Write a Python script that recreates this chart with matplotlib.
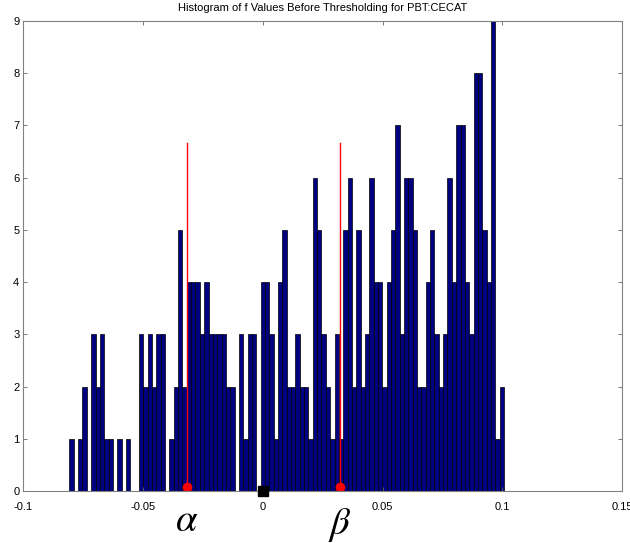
import numpy as np
import matplotlib
matplotlib.use("Agg")
import matplotlib.pyplot as plt
from matplotlib.transforms import blended_transform_factory

plt.rcParams["font.family"] = ["Liberation Sans", "DejaVu Sans"]
plt.rcParams["mathtext.fontset"] = "stix"

# histogram of f values (100 bins)
f_min, f_max = -0.0808, 0.1007
counts = [1, 0, 1, 2, 0, 3, 2, 3, 1, 1,
          0, 1, 0, 1, 0, 0, 3, 2, 3, 2,
          3, 3, 0, 1, 2, 5, 2, 4, 4, 4,
          3, 4, 3, 3, 3, 3, 2, 2, 0, 3,
          1, 3, 3, 0, 4, 4, 3, 1, 4, 5,
          2, 2, 3, 2, 2, 1, 6, 5, 3, 2,
          1, 3, 1, 5, 6, 2, 5, 2, 3, 6,
          4, 4, 2, 4, 5, 7, 3, 6, 6, 5,
          2, 2, 4, 5, 3, 2, 3, 6, 4, 7,
          7, 4, 3, 8, 8, 5, 4, 9, 1, 2]

# threshold markers
alpha_x = -0.0318
beta_x = 0.0320
line_top = 6.67
dot_y = 0.07

xticks = [-0.1, -0.05, 0, 0.05, 0.1, 0.15]
xticklabels = ["-0.1", "-0.05", "0", "0.05", "0.1", "0.15"]
yticks = list(range(10))

edges = np.linspace(f_min, f_max, len(counts) + 1)
width = edges[1] - edges[0]

fig = plt.figure(figsize=(6.30, 5.43), dpi=100)
ax = fig.add_axes([0.0373, 0.0958, 0.9500, 0.8655])

ax.bar(edges[:-1], counts, width=width, align="edge",
       color="#000080", edgecolor="black", linewidth=0.5)

for x in (alpha_x, beta_x):
    ax.plot([x, x], [0, line_top], color="red", linewidth=1.0)
    ax.plot(x, dot_y, "o", color="red", markersize=7, markeredgewidth=0)
ax.plot(0, 0, "s", color="black", markersize=6.5, clip_on=False, zorder=5)

ax.set_xlim(-0.1, 0.15)
ax.set_ylim(0, 9)
ax.set_xticks(xticks)
ax.set_xticklabels(xticklabels)
ax.set_yticks(yticks)
ax.tick_params(direction="in", top=True, right=True, labelsize=8,
               length=3, width=0.6, color="0.4", pad=3)
ax.tick_params(axis="x", pad=8)
for s in ax.spines.values():
    s.set_color("0.5")
    s.set_linewidth(0.8)

ax.set_title("Histogram of f Values Before Thresholding for PBT:CECAT",
             fontsize=8, pad=7)

tr = blended_transform_factory(ax.transData, ax.transAxes)
ax.text(alpha_x, -0.025, r"$\alpha$", transform=tr, ha="center", va="top",
        fontsize=28)
ax.text(beta_x, -0.033, r"$\beta$", transform=tr, ha="center", va="top",
        fontsize=28)

fig.savefig("out.png", dpi=100)
